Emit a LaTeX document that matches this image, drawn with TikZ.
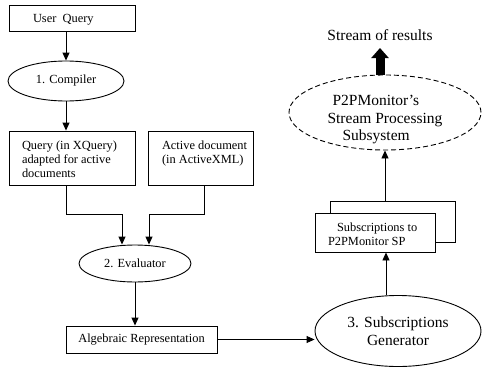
\documentclass[tikz,border=0pt]{standalone}
\usepackage{fontspec}
\setmainfont{Liberation Serif}
\usetikzlibrary{arrows.meta,shapes.geometric}
\newcommand\dsmall{\fontsize{12.4}{14}\selectfont}
\newcommand\dbig{\fontsize{15.5}{17.5}\selectfont}
\newcommand\lblock[3][0pt]{\makebox[#2][l]{\raisebox{#1}[\height][\depth]{\begin{tabular}{@{}l@{}}#3\end{tabular}}}}
\begin{document}
\begin{tikzpicture}[x=1pt,y=-1pt,
  every node/.style={inner sep=0pt, font=\dsmall},
  box/.style={draw, line width=0.9pt, rectangle},
  oval/.style={draw, line width=0.9pt, ellipse, align=center},
  conn/.style={line width=0.9pt},
  arr/.style={conn, -{Triangle[width=7pt,length=8pt]}},
  bigarr/.style={line width=9pt, -{Triangle[width=17pt,length=10pt]}}]
\useasboundingbox (0,0) rectangle (482,367);

\node[box, minimum width=126pt, minimum height=26pt] (uq) at (72,18) {\lblock[-1.5pt]{78pt}{User\ \ Query}};
\node[oval, minimum width=116pt, minimum height=40pt] (comp) at (66,81) {1. Compiler};
\node[box, minimum width=126pt, minimum height=54pt] (qbox) at (72,158) {\lblock[-3pt]{100pt}{Query (in XQuery)\\adapted for active\\documents}};
\node[box, minimum width=105pt, minimum height=54pt] (abox) at (200.5,158) {\lblock[-3pt]{77pt}{Active document\\(in ActiveXML)\\\mbox{}}};
\node[oval, minimum width=112pt, minimum height=37pt] (ev) at (135,263.5) {2. Evaluator};
\node[box, minimum width=151pt, minimum height=27pt] (alg) at (141.5,339.5) {Algebraic Representation};
\node[oval, minimum width=166pt, minimum height=71pt, font=\dbig] (sg) at (398,331) {3. Subscriptions\\Generator};
\node[box, minimum width=125pt, minimum height=41pt] (back) at (392.5,221.5) {};
\node[box, fill=white, minimum width=120pt, minimum height=39pt] (front) at (375,232.5) {\lblock[-3.5pt]{94pt}{\hspace*{9pt}Subscriptions to\\P2PMonitor SP}};
\node[draw, ellipse, line width=0.9pt, dash pattern=on 5pt off 3pt, minimum width=192pt, minimum height=75pt, font=\dbig] (sp) at (385,112.5) {\raisebox{-7pt}[\height][\depth]{\begin{tabular}{@{}l@{}}\hspace*{5pt}P2PMonitor’s\\Stream Processing\\\hspace*{15pt}Subsystem\end{tabular}}};
\node[font=\dbig] (res) at (380,35) {Stream of results};

\draw[arr] (uq.south -| comp.north) -- (comp.north);
\draw[arr] (comp.south) -- (comp.south |- qbox.north);
\coordinate (ja) at (66,214);
\coordinate (jb) at (122,214);
\coordinate (jc) at (204,214);
\coordinate (jd) at (149,214);
\draw[arr] (qbox.south -| ja) -- (ja) -- (jb) -- (jb |- ev.north);
\draw[arr] (abox.south -| jc) -- (jc) -- (jd) -- (jd |- ev.north);
\draw[arr] (ev.south) -- (ev.south |- alg.north);
\draw[arr] (alg.east) -- (alg.east -| sg.west);
\coordinate (jx) at (386,300);
\draw[arr] (sg.north -| jx) -- (front.south -| jx);
\draw[arr] (sp.south |- back.north) -- (sp.south);
\coordinate (tip) at (380,48);
\draw[bigarr] (tip |- sp.north) -- (tip);
\end{tikzpicture}
\end{document}
